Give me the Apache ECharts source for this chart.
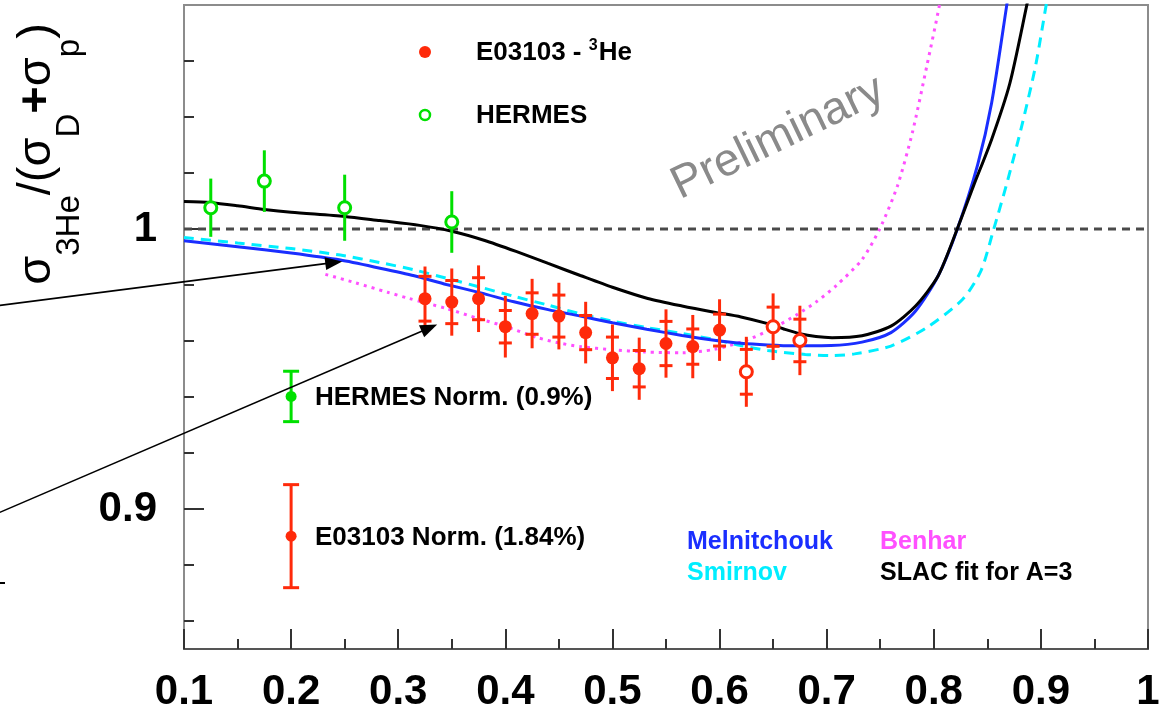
<!DOCTYPE html>
<html>
<head>
<meta charset="utf-8">
<script src="https://cdn.jsdelivr.net/npm/echarts@6/dist/echarts.min.js"></script>
<style>
  html, body { margin: 0; padding: 0; background: #fff; }
  #chart { width: 1167px; height: 713px; }
</style>
</head>
<body>
<div id="chart"></div>
<script>
// ---- E03103 3He / (D + p) ratio: x, ratio, stat error, total error ----
const e03103X    = [0.325, 0.35, 0.375, 0.4, 0.425, 0.45, 0.475, 0.5, 0.525, 0.55, 0.575, 0.6, 0.625, 0.65, 0.675];
const e03103Y    = [0.9751, 0.9739, 0.9751, 0.9651, 0.9698, 0.9689, 0.9630, 0.9540, 0.9501, 0.9591, 0.9580, 0.9639, 0.9490, 0.9651, 0.9602];
const e03103Stat = [0.0080, 0.0077, 0.0075, 0.0058, 0.0074, 0.0075, 0.0061, 0.0074, 0.0065, 0.0079, 0.0063, 0.0057, 0.0080, 0.0070, 0.0076];
const e03103Tot  = [0.0115, 0.0120, 0.0119, 0.0110, 0.0124, 0.0119, 0.0110, 0.0119, 0.0111, 0.0122, 0.0113, 0.0110, 0.0125, 0.0119, 0.0124];
// open markers for the highest-x points
const e03103Open = [false, false, false, false, false, false, false, false, false, false, false, false, true, true, true];

// ---- HERMES ----
const hermesX   = [0.125, 0.175, 0.25, 0.35];
const hermesY   = [1.0076, 1.0171, 1.0076, 1.0025];
const hermesErr = [0.0104, 0.0110, 0.0118, 0.0110];

// ---- normalization uncertainties (percent) ----
const normLabels = ['HERMES Norm. (0.9%)', 'E03103 Norm. (1.84%)'];
const normX   = [0.2, 0.2];
const normY   = [0.9402, 0.8903];
const normPct = [0.9, 1.84];

// ---- model curves [x, ratio] ----
const melnitchouk = [
  [0.10, 0.9958], [0.15, 0.9937], [0.20, 0.9914], [0.246, 0.9889], [0.283, 0.9860],
  [0.315, 0.9833], [0.345, 0.9802], [0.377, 0.9772], [0.408, 0.9740], [0.44, 0.9712],
  [0.47, 0.9689], [0.50, 0.9665], [0.532, 0.9642], [0.565, 0.9620], [0.595, 0.9603],
  [0.62, 0.9592], [0.645, 0.9586], [0.67, 0.9583], [0.704, 0.9584], [0.733, 0.9596],
  [0.76, 0.9630], [0.783, 0.9707], [0.804, 0.9832], [0.822, 1.0000], [0.841, 1.0230],
  [0.854, 1.0450], [0.868, 1.0796], [0.876, 1.1000]
];
const smirnov = [
  [0.10, 0.9970], [0.15, 0.9950], [0.20, 0.9930], [0.246, 0.9907], [0.283, 0.9880],
  [0.314, 0.9855], [0.345, 0.9824], [0.377, 0.9792], [0.4075, 0.9760], [0.44, 0.9728],
  [0.47, 0.9697], [0.50, 0.9671], [0.532, 0.9648], [0.565, 0.9627], [0.594, 0.9606],
  [0.62, 0.9584], [0.645, 0.9566], [0.68, 0.9552], [0.704, 0.9548], [0.726, 0.9554],
  [0.76, 0.9582], [0.7935, 0.9648], [0.827, 0.9749], [0.844, 0.9850], [0.856, 1.0000],
  [0.868, 1.0160], [0.881, 1.0350], [0.895, 1.0582], [0.905, 1.0802], [0.914, 1.1000]
];
const benhar = [
  [0.232, 0.9838], [0.26, 0.9808], [0.29, 0.9774], [0.31, 0.9752], [0.345, 0.9716],
  [0.375, 0.9680], [0.40, 0.9652], [0.43, 0.9612], [0.45, 0.9593], [0.47, 0.9580],
  [0.50, 0.9569], [0.53, 0.9561], [0.565, 0.9558], [0.595, 0.9570], [0.626, 0.9604],
  [0.65, 0.9646], [0.6726, 0.9695], [0.69, 0.9739], [0.709, 0.9798], [0.733, 0.9891],
  [0.7495, 1.0000], [0.766, 1.0153], [0.780, 1.0344], [0.7935, 1.0582], [0.8054, 1.0802],
  [0.814, 1.1000]
];
const slacFit = [
  [0.10, 1.0098], [0.125, 1.0094], [0.15, 1.0083], [0.175, 1.0070], [0.20, 1.0060],
  [0.25, 1.0045], [0.283, 1.0030], [0.32, 1.0013], [0.35, 0.9992], [0.38, 0.9960],
  [0.41, 0.9920], [0.44, 0.9877], [0.47, 0.9834], [0.50, 0.9792], [0.533, 0.9752],
  [0.565, 0.9725], [0.595, 0.9703], [0.62, 0.9686], [0.645, 0.9662], [0.66, 0.9643],
  [0.675, 0.9626], [0.69, 0.9616], [0.705, 0.9612], [0.733, 0.9619], [0.76, 0.9653],
  [0.783, 0.9725], [0.804, 0.9832], [0.822, 1.0001], [0.837, 1.0153], [0.854, 1.0320],
  [0.871, 1.0520], [0.887, 1.0802], [0.898, 1.1000]
];
const unityLine = [[0.1, 1.0], [1.0, 1.0]];

// ---- axis ticks ----
const xMin = 0.1, xMax = 1.0, xStep = 0.1;
const yMin = 0.85, yMax = 1.08;
const yMajorTicks = [0.9, 1.0];
const yMinorTicks = [0.86, 0.88, 0.92, 0.94, 0.96, 0.98, 1.02, 1.04, 1.06];

// ---- annotation arrows: [start, tip] in data units ----
const arrowLines = [
  [[-0.072, 0.9727], [0.2477, 0.9884]],
  [[-0.072, 0.8988], [0.3364, 0.9659]]
];

const RED = '#ff2a0a', GREEN = '#00e000', BLUE = '#1a2eff', CYAN = '#00eeff', MAGENTA = '#ff50ff';
const FONT = '"Liberation Sans", Arial, Helvetica, sans-serif';

const chart = echarts.init(document.getElementById('chart'), null, { renderer: 'canvas' });

const e03103Data = e03103X.map((x, i) => [x, e03103Y[i], e03103Stat[i], e03103Tot[i]]);
const hermesData = hermesX.map((x, i) => [x, hermesY[i], hermesErr[i]]);
const normData = normX.map((x, i) => [x, normY[i], normPct[i] / 100]);

function vline(a, b, color) {
  return { type: 'line', shape: { x1: a[0], y1: a[1], x2: b[0], y2: b[1] }, style: { stroke: color, lineWidth: 3 } };
}

const curve = (name, data, color, type, z) => ({
  name, type: 'line', data, showSymbol: false, smooth: 0.25, clip: true, z,
  lineStyle: { color, width: 3, type }, silent: true, animation: false
});

const option = {
  animation: false,
  backgroundColor: '#fff',
  grid: { left: 184, right: 19, top: 5, bottom: 63, show: true, borderColor: '#8c8c8c', borderWidth: 2, backgroundColor: 'transparent' },
  xAxis: {
    type: 'value', min: xMin, max: xMax, interval: xStep,
    axisLine: { lineStyle: { color: '#555', width: 2 } },
    axisTick: { inside: true, length: 20, lineStyle: { color: '#333', width: 2 } },
    minorTick: { show: true, splitNumber: 2, length: 10, lineStyle: { color: '#333', width: 2 } },
    splitLine: { show: false },
    axisLabel: { margin: 22, color: '#000', fontSize: 42, fontWeight: 'bold', fontFamily: FONT }
  },
  yAxis: [
    {
      type: 'value', min: yMin, max: yMax,
      axisLine: { show: true, lineStyle: { color: '#8c8c8c', width: 2 } },
      axisTick: { inside: true, length: 20, customValues: yMajorTicks, lineStyle: { color: '#333', width: 2 } },
      axisLabel: { customValues: yMajorTicks, margin: 27, color: '#000', fontSize: 42, fontWeight: 'bold', fontFamily: FONT },
      splitLine: { show: false }
    },
    {
      type: 'value', min: yMin, max: yMax, position: 'left',
      axisLine: { show: false },
      axisTick: { inside: true, length: 10, customValues: yMinorTicks, lineStyle: { color: '#333', width: 2 } },
      axisLabel: { show: false },
      splitLine: { show: false }
    }
  ],
  series: [
    {
      name: 'unity', type: 'line', data: unityLine, showSymbol: false, z: 1, silent: true,
      lineStyle: { color: '#4a4a4a', width: 3, type: [8, 6] }
    },
    curve('Benhar', benhar, MAGENTA, [3, 5], 2),
    curve('Smirnov', smirnov, CYAN, [10, 7], 3),
    curve('Melnitchouk', melnitchouk, BLUE, 'solid', 4),
    curve('SLAC fit for A=3', slacFit, '#000', 'solid', 5),
    {
      name: 'E03103 errors', type: 'custom', data: e03103Data, z: 6, silent: true,
      renderItem(params, api) {
        const x = api.value(0), y = api.value(1), s = api.value(2), t = api.value(3);
        const tTop = api.coord([x, y + t]), tBot = api.coord([x, y - t]);
        const sTop = api.coord([x, y + s]), sBot = api.coord([x, y - s]);
        const hw = 6.5;
        return {
          type: 'group', children: [
            vline(tTop, tBot, RED),
            vline([sTop[0] - hw, sTop[1]], [sTop[0] + hw, sTop[1]], RED),
            vline([sBot[0] - hw, sBot[1]], [sBot[0] + hw, sBot[1]], RED)
          ]
        };
      }
    },
    {
      name: 'HERMES errors', type: 'custom', data: hermesData, z: 6, silent: true,
      renderItem(params, api) {
        const x = api.value(0), y = api.value(1), e = api.value(2);
        return vline(api.coord([x, y + e]), api.coord([x, y - e]), GREEN);
      }
    },
    {
      name: 'Normalization', type: 'custom', data: normData, z: 6, silent: true,
      renderItem(params, api) {
        const x = api.value(0), y = api.value(1), e = api.value(2);
        const c = params.dataIndex === 0 ? GREEN : RED;
        const top = api.coord([x, y + e]), bot = api.coord([x, y - e]), mid = api.coord([x, y]);
        const hw = 8;
        return {
          type: 'group', children: [
            vline(top, bot, c),
            vline([top[0] - hw, top[1]], [top[0] + hw, top[1]], c),
            vline([bot[0] - hw, bot[1]], [bot[0] + hw, bot[1]], c),
            { type: 'circle', shape: { cx: mid[0], cy: mid[1], r: 5.5 }, style: { fill: c } }
          ]
        };
      }
    },
    {
      name: 'E03103 - 3He', type: 'scatter', z: 7, silent: true,
      data: e03103Data.map((d, i) => ({
        value: [d[0], d[1]],
        symbolSize: e03103Open[i] ? 12 : 13,
        itemStyle: e03103Open[i]
          ? { color: '#fff', borderColor: RED, borderWidth: 3, opacity: 1 }
          : { color: RED, borderWidth: 0, opacity: 1 }
      }))
    },
    {
      name: 'HERMES', type: 'scatter', z: 7, silent: true, symbolSize: 12,
      data: hermesData.map(d => [d[0], d[1]]),
      itemStyle: { color: '#fff', borderColor: GREEN, borderWidth: 3, opacity: 1 }
    }
  ]
};

chart.setOption(option);

// ---- overlay texts, legend and arrows ----
const gfx = [];

// y-axis title
gfx.push({
  type: 'text', x: 37, y: 154, rotation: Math.PI / 2, z: 20,
  style: {
    text: '{m|σ}{s|3He}{m|/(σ}{s|D}{b|+}{m|σ}{s|p}{m|)}',
    align: 'center', verticalAlign: 'middle', textAlign: 'center', textVerticalAlign: 'middle',
    fill: '#000',
    rich: {
      m: { fontSize: 47, fontFamily: FONT, lineHeight: 50, fill: '#000', color: '#000' },
      b: { fontSize: 47, fontFamily: FONT, fontWeight: 'bold', lineHeight: 50, fill: '#000', color: '#000' },
      s: { fontSize: 33, fontFamily: FONT, lineHeight: 33, padding: [66, 0, 0, 0], fill: '#000', color: '#000' }
    }
  }
});

// watermark
gfx.push({
  type: 'text', x: 778, y: 138, rotation: 0.45, z: 20,
  style: {
    text: 'Preliminary', font: 'normal 46px ' + FONT, fill: '#8a8a8a',
    align: 'center', verticalAlign: 'middle', textAlign: 'center', textVerticalAlign: 'middle'
  }
});

// data legend
gfx.push({ type: 'circle', shape: { cx: 425, cy: 52, r: 6 }, style: { fill: RED }, z: 20 });
gfx.push({ type: 'circle', shape: { cx: 425, cy: 115, r: 5 }, style: { fill: '#fff', stroke: GREEN, lineWidth: 2.5 }, z: 20 });
const labelText = (text, x, y, color, size) => ({
  type: 'text', x, y, z: 20,
  style: { text, font: 'bold ' + size + 'px ' + FONT, fill: color, align: 'left', verticalAlign: 'middle', textAlign: 'left', textVerticalAlign: 'middle' }
});
gfx.push({
  type: 'text', x: 476, y: 53, z: 20,
  style: {
    text: '{t|E03103 - }{u|3}{t|He}', align: 'left', verticalAlign: 'middle', textAlign: 'left', textVerticalAlign: 'middle',
    rich: {
      t: { font: 'bold 26px ' + FONT, fill: '#000', color: '#000', lineHeight: 30 },
      u: { font: 'bold 16px ' + FONT, fill: '#000', color: '#000', lineHeight: 16, padding: [0, 1, 14, 0] }
    }
  }
});
gfx.push(labelText('HERMES', 476, 116, '#000', 26));

// normalization labels
gfx.push(labelText(normLabels[0], 315, 398, '#000', 26));
gfx.push(labelText(normLabels[1], 315, 538, '#000', 26));

// model names
gfx.push(labelText('Melnitchouk', 687, 542, BLUE, 25));
gfx.push(labelText('Smirnov', 687, 573, CYAN, 25));
gfx.push(labelText('Benhar', 880, 542, MAGENTA, 25));
gfx.push(labelText('SLAC fit for A=3', 880, 573, '#000', 25));

// arrows
arrowLines.forEach(([from, to]) => {
  const a = chart.convertToPixel({ gridIndex: 0 }, from);
  const b = chart.convertToPixel({ gridIndex: 0 }, to);
  const dx = b[0] - a[0], dy = b[1] - a[1];
  const len = Math.hypot(dx, dy), ux = dx / len, uy = dy / len;
  const headLen = 17, headHalf = 6.5;
  const bx = b[0] - ux * headLen, by = b[1] - uy * headLen;
  gfx.push({ type: 'line', z: 21, shape: { x1: a[0], y1: a[1], x2: bx + ux * 2, y2: by + uy * 2 }, style: { stroke: '#000', lineWidth: 1.6 } });
  gfx.push({
    type: 'polygon', z: 21,
    shape: { points: [[b[0], b[1]], [bx - uy * headHalf, by + ux * headHalf], [bx + uy * headHalf, by - ux * headHalf]] },
    style: { fill: '#000' }
  });
});
gfx.push({ type: 'rect', z: 21, shape: { x: 0, y: 582, width: 5, height: 2 }, style: { fill: '#000' } });

chart.setOption({ graphic: gfx });
</script>
</body>
</html>
